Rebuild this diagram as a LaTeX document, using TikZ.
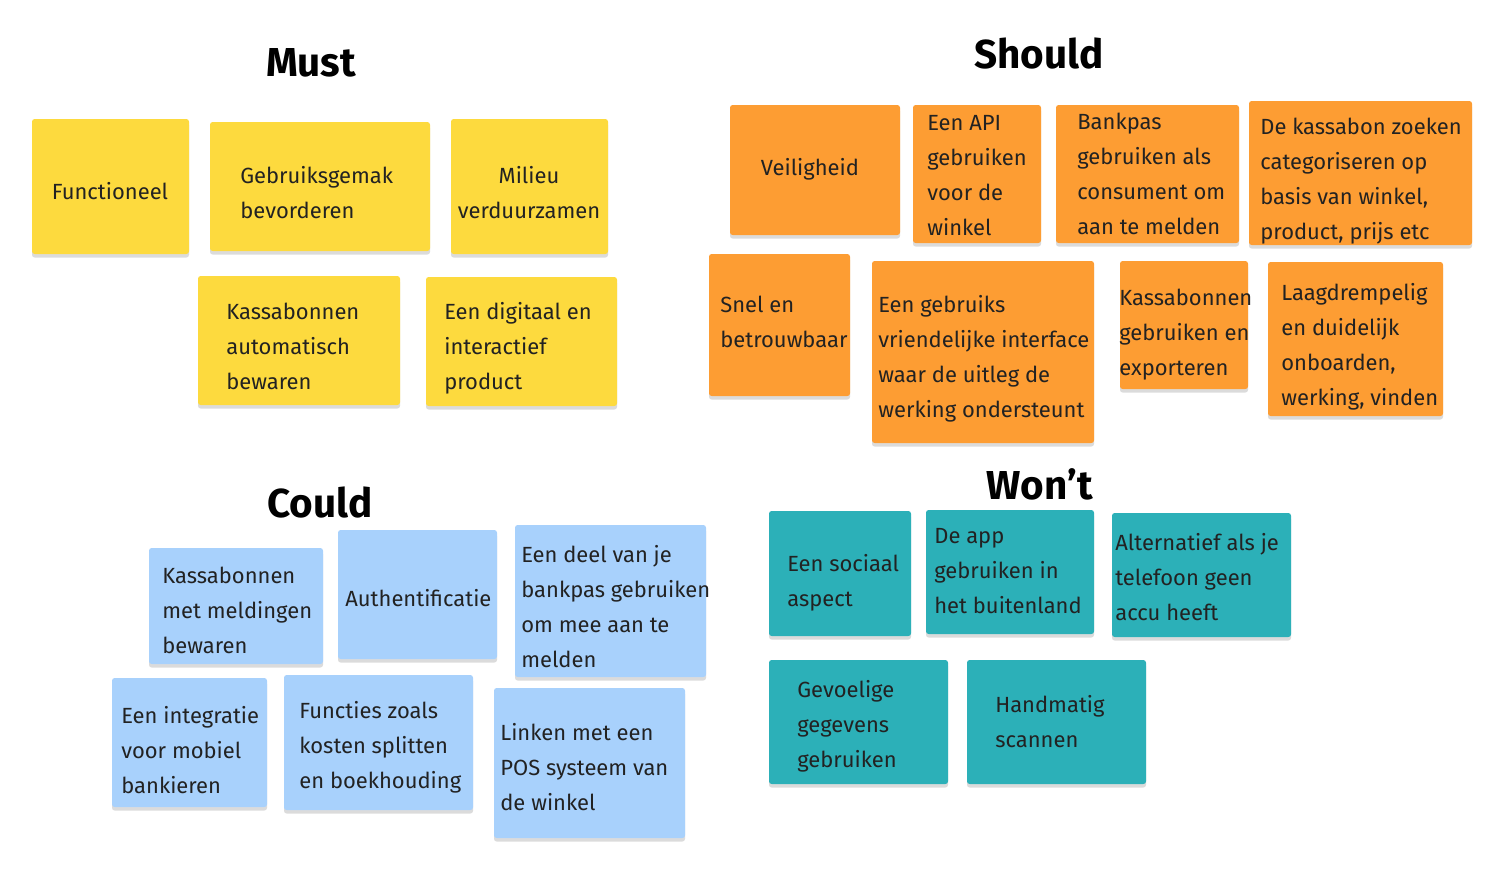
\documentclass[tikz,border=0pt]{standalone}
\usepackage{fontspec}
\setmainfont{Fira Sans}
\usetikzlibrary{fit,shadows}

\definecolor{mustyellow}{HTML}{FDDA3E}
\definecolor{shouldorange}{HTML}{FD9D33}
\definecolor{couldblue}{HTML}{A8D1FC}
\definecolor{wontteal}{HTML}{2CB0B8}
\definecolor{memotext}{HTML}{222222}

\begin{document}
\begin{tikzpicture}[
    x=0.02cm, y=-0.02cm,
    note/.style={
        rectangle,
        rounded corners=1.5pt,
        inner sep=0pt,
        fill=#1,
        drop shadow={shadow xshift=0pt, shadow yshift=-2pt, fill=black, opacity=0.14}
    },
    memo/.style={anchor=base west, align=left, inner sep=0pt, text=memotext,
        font=\fontsize{12.5}{19.92}\selectfont},
    memoc/.style={memo, anchor=base, align=center},
    heading/.style={anchor=base, inner sep=0pt, font=\fontsize{23}{27}\selectfont\bfseries}
]
\useasboundingbox (0,0) rectangle (1508,880);

% Must
\node[heading] (must) at (311,76) {Must};
\node[note=mustyellow, fit={(32,119) (189,254)}] (functioneel) {};
\node[note=mustyellow, fit={(210,122) (430,251)}] (gemak) {};
\node[note=mustyellow, fit={(451,119) (608,254)}] (milieu) {};
\node[note=mustyellow, fit={(198,276) (400,405)}] (bewaren) {};
\node[note=mustyellow, fit={(426,277) (617,406)}] (digitaal) {};
\node[memoc] (functioneel-txt) at (110,199) {Functioneel};
\node[memo] (gemak-txt) at (240,218) {Gebruiksgemak\\bevorderen};
\node[memoc] (milieu-txt) at (529,218) {Milieu\\verduurzamen};
\node[memo] (bewaren-txt) at (226,389) {Kassabonnen\\automatisch\\bewaren};
\node[memo] (digitaal-txt) at (444,389) {Een digitaal en\\interactief\\product};

% Should
\node[heading] (should) at (1039,68) {Should};
\node[note=shouldorange, fit={(730,105) (900,235)}] (veilig) {};
\node[note=shouldorange, fit={(913,105) (1041,243)}] (api) {};
\node[note=shouldorange, fit={(1056,105) (1239,243)}] (bankpas) {};
\node[note=shouldorange, fit={(1249,101) (1472,245)}] (zoeken) {};
\node[note=shouldorange, fit={(709,254) (850,396)}] (snel) {};
\node[note=shouldorange, fit={(872,261) (1094,443)}] (interface) {};
\node[note=shouldorange, fit={(1120,261) (1248,389)}] (exporteren) {};
\node[note=shouldorange, fit={(1268,262) (1443,416)}] (onboarden) {};
\node[memoc] (veilig-txt) at (810,175) {Veiligheid};
\node[memo] (api-txt) at (927,235) {Een API\\gebruiken\\voor de\\winkel};
\node[memo] (bankpas-txt) at (1077,234) {Bankpas\\gebruiken als\\consument om\\aan te melden};
\node[memo] (zoeken-txt) at (1260,239) {De kassabon zoeken\\categoriseren op\\basis van winkel,\\product, prijs etc};
\node[memo] (snel-txt) at (720,347) {Snel en\\betrouwbaar};
\node[memo] (interface-txt) at (878,417) {Een gebruiks\\vriendelijke interface\\waar de uitleg de\\werking ondersteunt};
\node[memo] (exporteren-txt) at (1119,375) {Kassabonnen\\gebruiken en\\exporteren};
\node[memo] (onboarden-txt) at (1281,405) {Laagdrempelig\\en duidelijk\\onboarden,\\werking, vinden};

% Could
\node[heading] (could) at (320,517) {Could};
\node[note=couldblue, fit={(149,548) (323,664)}] (meldingen) {};
\node[note=couldblue, fit={(338,530) (497,659)}] (authent) {};
\node[note=couldblue, fit={(515,525) (706,677)}] (bankdeel) {};
\node[note=couldblue, fit={(112,678) (267,807)}] (mobiel) {};
\node[note=couldblue, fit={(284,675) (473,810)}] (functies) {};
\node[note=couldblue, fit={(494,688) (685,838)}] (pos) {};
\node[memo] (meldingen-txt) at (162,653) {Kassabonnen\\met meldingen\\bewaren};
\node[memo] (authent-txt) at (345,606) {Authentificatie};
\node[memo] (bankdeel-txt) at (521,667) {Een deel van je\\bankpas gebruiken\\om mee aan te\\melden};
\node[memo] (mobiel-txt) at (121,793) {Een integratie\\voor mobiel\\bankieren};
\node[memo] (functies-txt) at (299,788) {Functies zoals\\kosten splitten\\en boekhouding};
\node[memo] (pos-txt) at (500,810) {Linken met een\\POS systeem van\\de winkel};

% Won't
\node[heading] (wont) at (1040,499) {Won’t};
\node[note=wontteal, fit={(769,511) (911,636)}] (sociaal) {};
\node[note=wontteal, fit={(926,510) (1094,634)}] (buitenland) {};
\node[note=wontteal, fit={(1112,513) (1291,637)}] (accu) {};
\node[note=wontteal, fit={(769,660) (948,784)}] (gevoelig) {};
\node[note=wontteal, fit={(967,660) (1146,784)}] (handmatig) {};
\node[memo] (sociaal-txt) at (787,606) {Een sociaal\\aspect};
\node[memo] (buitenland-txt) at (934,613) {De app\\gebruiken in\\het buitenland};
\node[memo] (accu-txt) at (1115,620) {Alternatief als je\\telefoon geen\\accu heeft};
\node[memo] (gevoelig-txt) at (797,767) {Gevoelige\\gegevens\\gebruiken};
\node[memo] (handmatig-txt) at (995,747) {Handmatig\\scannen};

\end{tikzpicture}
\end{document}
